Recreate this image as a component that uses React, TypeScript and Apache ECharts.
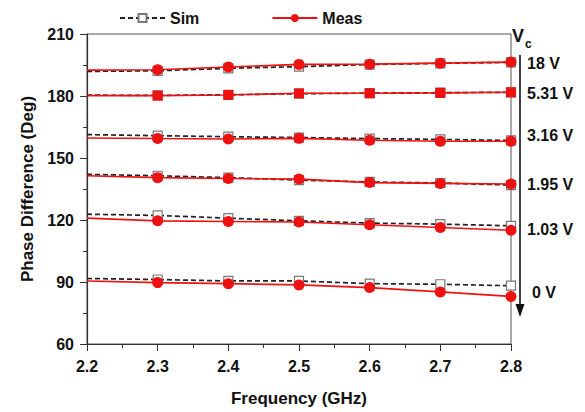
import React, { useEffect, useRef } from "react";
import * as echarts from "echarts";

const freqs = [2.2, 2.3, 2.4, 2.5, 2.6, 2.7, 2.8];
const voltageLabels = ["18 V", "5.31 V", "3.16 V", "1.95 V", "1.03 V", "0 V"];
const sim18 = [191.9, 192.2, 193.4, 194.2, 195.2, 195.8, 196.3];
const meas18 = [192.5, 192.7, 194.0, 195.3, 195.4, 195.9, 196.4];
const sim531 = [180.4, 180.3, 180.6, 181.1, 181.4, 181.6, 181.8];
const meas531 = [180.2, 180.2, 180.5, 181.3, 181.3, 181.5, 181.8];
const sim316 = [161.3, 160.8, 160.3, 159.9, 159.4, 159.0, 158.5];
const meas316 = [159.7, 159.4, 159.2, 159.5, 158.6, 158.1, 158.1];
const sim195 = [142.1, 141.4, 140.5, 139.3, 138.4, 137.9, 136.9];
const meas195 = [141.4, 140.5, 140.1, 139.8, 138.1, 137.7, 137.4];
const sim103 = [122.8, 122.2, 120.9, 119.6, 118.5, 118.0, 117.2];
const meas103 = [120.9, 119.6, 119.3, 119.0, 117.7, 116.4, 115.0];
const sim0 = [91.7, 91.2, 90.5, 90.5, 89.2, 88.9, 88.2];
const meas0 = [90.5, 89.7, 89.2, 88.6, 87.3, 85.2, 83.0];

const simSets = [sim18, sim531, sim316, sim195, sim103, sim0];
const measSets = [meas18, meas531, meas316, meas195, meas103, meas0];
const labelY = [63, 93, 135, 184, 229, 292];
const labelX = [527, 527, 527, 527, 527, 532];

const FONT = "Liberation Sans, Arial, sans-serif";

function toData(vals: number[]) {
  return vals.map((v, i) =>
    i === 0 ? { value: [freqs[i], v], symbol: "none" } : { value: [freqs[i], v] }
  );
}

export default function App() {
  const ref = useRef<HTMLDivElement>(null);
  useEffect(() => {
    if (!ref.current) return;
    const chart = echarts.init(ref.current, null, { renderer: "svg" });
    const series: any[] = [];
    simSets.forEach((s) => {
      series.push({
        name: "Sim",
        type: "line",
        data: toData(s),
        symbol: "rect",
        symbolSize: 9,
        lineStyle: { color: "#222", width: 1.7, type: [5, 3] },
        itemStyle: { color: "#fff", borderColor: "#777", borderWidth: 1.2 },
        z: 2,
      });
    });
    measSets.forEach((s, k) => {
      series.push({
        name: "Meas",
        type: "line",
        data: toData(s),
        symbol: k === 1 ? "rect" : "circle",
        symbolSize: k === 1 ? 10 : 11,
        lineStyle: { color: "#ee1111", width: 1.6 },
        itemStyle: { color: "#ee1111" },
        z: 3,
      });
    });
    const graphics: any[] = [
      { type: "text", left: 512, top: 27, style: { text: "V", font: `bold 18px ${FONT}`, fill: "#111" } },
      { type: "text", left: 525, top: 38, style: { text: "c", font: `bold 12px ${FONT}`, fill: "#111" } },
      { type: "line", shape: { x1: 520, y1: 55, x2: 520, y2: 308 }, style: { stroke: "#111", lineWidth: 1.6 } },
      { type: "polygon", shape: { points: [[515.5, 304], [524.5, 304], [520, 317]] }, style: { fill: "#111" } },
    ];
    voltageLabels.forEach((t, i) => {
      graphics.push({
        type: "text",
        x: labelX[i],
        y: labelY[i],
        style: { text: t, font: `bold 16px ${FONT}`, fill: "#111", verticalAlign: "middle", align: "left" },
      });
    });
    chart.setOption({
      animation: false,
      backgroundColor: "#fff",
      grid: { left: 87, right: 74, top: 34, bottom: 65, show: true, borderColor: "#555", borderWidth: 1, backgroundColor: "transparent" },
      legend: {
        data: ["Sim", "Meas"],
        top: 5,
        left: 114,
        itemWidth: 45,
        itemHeight: 10,
        itemGap: 72,
        textStyle: { fontFamily: FONT, fontWeight: "bold", fontSize: 16, color: "#111" },
      },
      xAxis: {
        type: "value",
        min: 2.2,
        max: 2.8,
        interval: 0.1,
        name: "Frequency (GHz)",
        nameLocation: "middle",
        nameGap: 46,
        nameTextStyle: { fontFamily: FONT, fontWeight: "bold", fontSize: 17, color: "#111" },
        axisLine: { show: true, lineStyle: { color: "#333", width: 1.2 } },
        axisTick: { show: true, length: 7, lineStyle: { color: "#333" } },
        minorTick: { show: true, splitNumber: 2, length: 4, lineStyle: { color: "#333" } },
        splitLine: { show: false },
        axisLabel: {
          formatter: (v: number) => v.toFixed(1),
          fontFamily: FONT,
          fontWeight: "bold",
          fontSize: 16,
          color: "#111",
          margin: 14,
        },
      },
      yAxis: {
        type: "value",
        min: 60,
        max: 210,
        interval: 30,
        name: "Phase Difference (Deg)",
        nameLocation: "middle",
        nameGap: 48,
        nameTextStyle: { fontFamily: FONT, fontWeight: "bold", fontSize: 17, color: "#111" },
        axisLine: { show: true, lineStyle: { color: "#333", width: 1.2 } },
        axisTick: { show: true, length: 7, lineStyle: { color: "#333" } },
        minorTick: { show: true, splitNumber: 2, length: 4, lineStyle: { color: "#333" } },
        splitLine: { show: false },
        axisLabel: { fontFamily: FONT, fontWeight: "bold", fontSize: 16, color: "#111", margin: 13 },
      },
      series,
      graphic: graphics,
    });
    return () => chart.dispose();
  }, []);
  return <div ref={ref} style={{ width: 585, height: 412, position: "absolute", left: 0, top: 0 }} />;
}
